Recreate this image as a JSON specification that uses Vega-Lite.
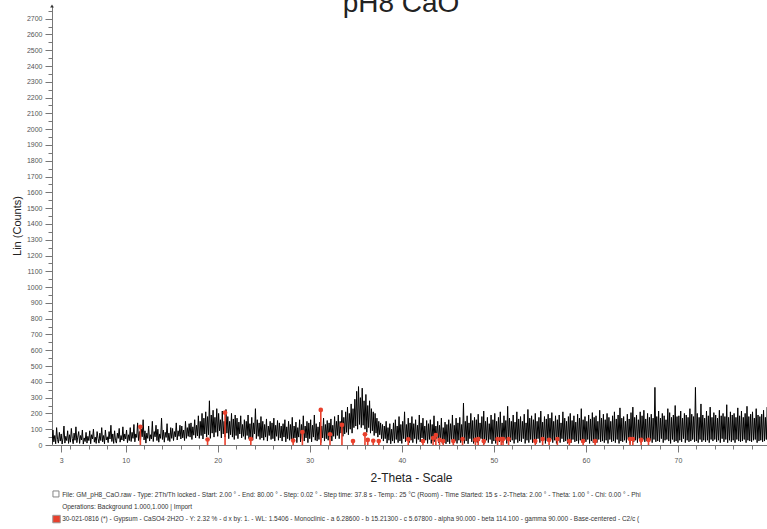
{
"$schema": "https://vega.github.io/schema/vega-lite/v6.json",
"autosize": {"type": "none"},
"width": 718,
"height": 439,
"padding": {"left": 52, "top": 6, "right": 0, "bottom": 84},
"background": "white",
"config": {"view": {"stroke": null}, "font": "Liberation Sans"},
"title": {"text": "pH8 CaO", "fontSize": 28, "fontWeight": "normal", "color": "#222", "font": "Liberation Sans", "offset": -5, "baseline": "alphabetic", "dx": -10, "dy": 31},
"resolve": {"axis": {"x": "independent", "y": "independent"}},
"datasets": {
"ref": [
{"x":11.6,"y":115},{"x":18.9,"y":35},{"x":20.8,"y":205},{"x":23.6,"y":38},{"x":28.2,"y":28},{"x":29.2,"y":82},{"x":31.2,"y":222},{"x":32.2,"y":68},{"x":33.5,"y":127},{"x":34.7,"y":25},{"x":36.0,"y":68},{"x":36.3,"y":32},{"x":36.9,"y":27},{"x":37.5,"y":25},{"x":40.7,"y":36},{"x":42.3,"y":25},{"x":43.4,"y":44},{"x":43.7,"y":63},{"x":44.1,"y":32},{"x":44.5,"y":25},{"x":45.6,"y":25},{"x":46.6,"y":38},{"x":48.0,"y":32},{"x":48.3,"y":38},{"x":48.9,"y":25},{"x":50.4,"y":38},{"x":50.8,"y":38},{"x":51.0,"y":38},{"x":51.6,"y":38},{"x":54.5,"y":25},{"x":55.3,"y":38},{"x":56.0,"y":32},{"x":56.9,"y":38},{"x":58.2,"y":25},{"x":59.7,"y":25},{"x":61.0,"y":25},{"x":64.8,"y":38},{"x":65.1,"y":38},{"x":66.0,"y":32},{"x":66.8,"y":32}
],
"footer": [
{"lines": ["File: GM_pH8_CaO.raw - Type: 2Th/Th locked - Start: 2.00 ° - End: 80.00 ° - Step: 0.02 ° - Step time: 37.8 s - Temp.: 25 °C (Room) - Time Started: 15 s - 2-Theta: 2.00 ° - Theta: 1.00 ° - Chi: 0.00 ° - Phi", "Operations: Background 1.000,1.000 | Import", "30-021-0816 (*) - Gypsum - CaSO4·2H2O - Y: 2.32 % - d x by: 1. - WL: 1.5406 - Monoclinic - a 6.28600 - b 15.21300 - c 5.67800 - alpha 90.000 - beta 114.100 - gamma 90.000 - Base-centered - C2/c ("]}
],
"scan": [
{"x":2.0,"y":5},{"x":2.1,"y":95},{"x":2.2,"y":20},{"x":2.3,"y":60},{"x":2.4,"y":8},{"x":2.5,"y":110},{"x":2.6,"y":35},{"x":2.7,"y":12},{"x":2.8,"y":80},{"x":2.9,"y":25},
{"x":3.0,"y":70},{"x":3.1,"y":6},{"x":3.2,"y":45},{"x":3.3,"y":120},{"x":3.4,"y":12},{"x":3.5,"y":55},{"x":3.6,"y":28},{"x":3.7,"y":90},{"x":3.8,"y":10},{"x":3.9,"y":65},
{"x":4.0,"y":18},{"x":4.1,"y":105},{"x":4.2,"y":40},{"x":4.3,"y":8},{"x":4.4,"y":75},{"x":4.5,"y":30},{"x":4.6,"y":115},{"x":4.7,"y":15},{"x":4.8,"y":50},{"x":4.9,"y":85},
{"x":5.0,"y":10},{"x":5.1,"y":60},{"x":5.2,"y":32},{"x":5.3,"y":95},{"x":5.4,"y":6},{"x":5.5,"y":45},{"x":5.6,"y":22},{"x":5.7,"y":80},{"x":5.8,"y":12},{"x":5.9,"y":55},
{"x":6.0,"y":28},{"x":6.1,"y":90},{"x":6.2,"y":8},{"x":6.3,"y":65},{"x":6.4,"y":38},{"x":6.5,"y":100},{"x":6.6,"y":18},{"x":6.7,"y":50},{"x":6.8,"y":10},{"x":6.9,"y":85},
{"x":7.0,"y":42},{"x":7.1,"y":12},{"x":7.2,"y":75},{"x":7.3,"y":28},{"x":7.4,"y":110},{"x":7.5,"y":20},{"x":7.6,"y":60},{"x":7.7,"y":8},{"x":7.8,"y":95},{"x":7.9,"y":32},
{"x":8.0,"y":52},{"x":8.1,"y":15},{"x":8.2,"y":85},{"x":8.3,"y":38},{"x":8.4,"y":125},{"x":8.5,"y":22},{"x":8.6,"y":70},{"x":8.7,"y":10},{"x":8.8,"y":90},{"x":8.9,"y":28},
{"x":9.0,"y":12},{"x":9.1,"y":75},{"x":9.2,"y":42},{"x":9.3,"y":105},{"x":9.4,"y":18},{"x":9.5,"y":60},{"x":9.6,"y":32},{"x":9.7,"y":115},{"x":9.8,"y":25},{"x":9.9,"y":70},
{"x":10.0,"y":38},{"x":10.1,"y":95},{"x":10.2,"y":15},{"x":10.3,"y":65},{"x":10.4,"y":28},{"x":10.5,"y":110},{"x":10.6,"y":22},{"x":10.7,"y":80},{"x":10.8,"y":42},{"x":10.9,"y":130},
{"x":11.0,"y":20},{"x":11.1,"y":70},{"x":11.2,"y":48},{"x":11.3,"y":140},{"x":11.4,"y":28},{"x":11.5,"y":85},{"x":11.6,"y":18},{"x":11.7,"y":100},{"x":11.8,"y":52},{"x":11.9,"y":160},
{"x":12.0,"y":32},{"x":12.1,"y":90},{"x":12.2,"y":12},{"x":12.3,"y":75},{"x":12.4,"y":42},{"x":12.5,"y":120},{"x":12.6,"y":25},{"x":12.7,"y":65},{"x":12.8,"y":38},{"x":12.9,"y":150},
{"x":13.0,"y":22},{"x":13.1,"y":85},{"x":13.2,"y":52},{"x":13.3,"y":125},{"x":13.4,"y":28},{"x":13.5,"y":100},{"x":13.6,"y":18},{"x":13.7,"y":70},{"x":13.8,"y":42},{"x":13.9,"y":170},
{"x":14.0,"y":35},{"x":14.1,"y":95},{"x":14.2,"y":18},{"x":14.3,"y":80},{"x":14.4,"y":48},{"x":14.5,"y":135},{"x":14.6,"y":28},{"x":14.7,"y":75},{"x":14.8,"y":22},{"x":14.9,"y":110},
{"x":15.0,"y":42},{"x":15.1,"y":105},{"x":15.2,"y":28},{"x":15.3,"y":85},{"x":15.4,"y":52},{"x":15.5,"y":140},{"x":15.6,"y":32},{"x":15.7,"y":90},{"x":15.8,"y":55},{"x":15.9,"y":125},
{"x":16.0,"y":38},{"x":16.1,"y":120},{"x":16.2,"y":45},{"x":16.3,"y":95},{"x":16.4,"y":28},{"x":16.5,"y":150},{"x":16.6,"y":42},{"x":16.7,"y":110},{"x":16.8,"y":55},{"x":16.9,"y":135},
{"x":17.0,"y":50},{"x":17.1,"y":140},{"x":17.2,"y":35},{"x":17.3,"y":115},{"x":17.4,"y":62},{"x":17.5,"y":160},{"x":17.6,"y":45},{"x":17.7,"y":125},{"x":17.8,"y":58},{"x":17.9,"y":185},
{"x":18.0,"y":42},{"x":18.1,"y":150},{"x":18.2,"y":60},{"x":18.3,"y":200},{"x":18.4,"y":38},{"x":18.5,"y":170},{"x":18.6,"y":70},{"x":18.7,"y":210},{"x":18.8,"y":50},{"x":18.9,"y":180},
{"x":19.0,"y":65},{"x":19.1,"y":280},{"x":19.2,"y":42},{"x":19.3,"y":190},{"x":19.4,"y":75},{"x":19.5,"y":220},{"x":19.6,"y":50},{"x":19.7,"y":175},{"x":19.8,"y":80},{"x":19.9,"y":230},
{"x":20.0,"y":55},{"x":20.1,"y":200},{"x":20.2,"y":90},{"x":20.3,"y":160},{"x":20.4,"y":45},{"x":20.5,"y":215},{"x":20.6,"y":70},{"x":20.7,"y":150},{"x":20.8,"y":50},{"x":20.9,"y":225},
{"x":21.0,"y":75},{"x":21.1,"y":180},{"x":21.2,"y":40},{"x":21.3,"y":150},{"x":21.4,"y":65},{"x":21.5,"y":200},{"x":21.6,"y":50},{"x":21.7,"y":165},{"x":21.8,"y":35},{"x":21.9,"y":190},
{"x":22.0,"y":60},{"x":22.1,"y":170},{"x":22.2,"y":40},{"x":22.3,"y":145},{"x":22.4,"y":70},{"x":22.5,"y":185},{"x":22.6,"y":45},{"x":22.7,"y":130},{"x":22.8,"y":55},{"x":22.9,"y":160},
{"x":23.0,"y":35},{"x":23.1,"y":150},{"x":23.2,"y":60},{"x":23.3,"y":190},{"x":23.4,"y":40},{"x":23.5,"y":135},{"x":23.6,"y":50},{"x":23.7,"y":175},{"x":23.8,"y":30},{"x":23.9,"y":140},
{"x":24.0,"y":70},{"x":24.1,"y":230},{"x":24.2,"y":40},{"x":24.3,"y":160},{"x":24.4,"y":55},{"x":24.5,"y":140},{"x":24.6,"y":35},{"x":24.7,"y":180},{"x":24.8,"y":45},{"x":24.9,"y":150},
{"x":25.0,"y":30},{"x":25.1,"y":130},{"x":25.2,"y":50},{"x":25.3,"y":165},{"x":25.4,"y":25},{"x":25.5,"y":120},{"x":25.6,"y":60},{"x":25.7,"y":150},{"x":25.8,"y":35},{"x":25.9,"y":140},
{"x":26.0,"y":40},{"x":26.1,"y":170},{"x":26.2,"y":25},{"x":26.3,"y":125},{"x":26.4,"y":55},{"x":26.5,"y":155},{"x":26.6,"y":30},{"x":26.7,"y":140},{"x":26.8,"y":45},{"x":26.9,"y":120},
{"x":27.0,"y":25},{"x":27.1,"y":135},{"x":27.2,"y":50},{"x":27.3,"y":160},{"x":27.4,"y":20},{"x":27.5,"y":115},{"x":27.6,"y":40},{"x":27.7,"y":150},{"x":27.8,"y":30},{"x":27.9,"y":130},
{"x":28.0,"y":35},{"x":28.1,"y":175},{"x":28.2,"y":20},{"x":28.3,"y":120},{"x":28.4,"y":45},{"x":28.5,"y":145},{"x":28.6,"y":15},{"x":28.7,"y":110},{"x":28.8,"y":50},{"x":28.9,"y":160},
{"x":29.0,"y":20},{"x":29.1,"y":130},{"x":29.2,"y":40},{"x":29.3,"y":185},{"x":29.4,"y":25},{"x":29.5,"y":120},{"x":29.6,"y":45},{"x":29.7,"y":150},{"x":29.8,"y":15},{"x":29.9,"y":140},
{"x":30.0,"y":40},{"x":30.1,"y":160},{"x":30.2,"y":20},{"x":30.3,"y":125},{"x":30.4,"y":50},{"x":30.5,"y":190},{"x":30.6,"y":30},{"x":30.7,"y":135},{"x":30.8,"y":25},{"x":30.9,"y":115},
{"x":31.0,"y":35},{"x":31.1,"y":145},{"x":31.2,"y":15},{"x":31.3,"y":120},{"x":31.4,"y":45},{"x":31.5,"y":170},{"x":31.6,"y":25},{"x":31.7,"y":130},{"x":31.8,"y":40},{"x":31.9,"y":155},
{"x":32.0,"y":30},{"x":32.1,"y":140},{"x":32.2,"y":50},{"x":32.3,"y":165},{"x":32.4,"y":25},{"x":32.5,"y":125},{"x":32.6,"y":55},{"x":32.7,"y":180},{"x":32.8,"y":40},{"x":32.9,"y":150},
{"x":33.0,"y":60},{"x":33.1,"y":190},{"x":33.2,"y":40},{"x":33.3,"y":150},{"x":33.4,"y":75},{"x":33.5,"y":220},{"x":33.6,"y":55},{"x":33.7,"y":175},{"x":33.8,"y":70},{"x":33.9,"y":210},
{"x":34.0,"y":80},{"x":34.1,"y":240},{"x":34.2,"y":65},{"x":34.3,"y":200},{"x":34.4,"y":100},{"x":34.5,"y":260},{"x":34.6,"y":75},{"x":34.7,"y":230},{"x":34.8,"y":110},{"x":34.9,"y":290},
{"x":35.0,"y":120},{"x":35.1,"y":340},{"x":35.2,"y":100},{"x":35.3,"y":370},{"x":35.4,"y":130},{"x":35.5,"y":300},{"x":35.6,"y":110},{"x":35.7,"y":360},{"x":35.8,"y":125},{"x":35.9,"y":280},
{"x":36.0,"y":100},{"x":36.1,"y":320},{"x":36.2,"y":80},{"x":36.3,"y":250},{"x":36.4,"y":110},{"x":36.5,"y":280},{"x":36.6,"y":75},{"x":36.7,"y":230},{"x":36.8,"y":90},{"x":36.9,"y":210},
{"x":37.0,"y":60},{"x":37.1,"y":200},{"x":37.2,"y":75},{"x":37.3,"y":170},{"x":37.4,"y":50},{"x":37.5,"y":150},{"x":37.6,"y":65},{"x":37.7,"y":140},{"x":37.8,"y":40},{"x":37.9,"y":130},
{"x":38.0,"y":25},{"x":38.1,"y":120},{"x":38.2,"y":40},{"x":38.3,"y":150},{"x":38.4,"y":12},{"x":38.5,"y":110},{"x":38.6,"y":30},{"x":38.7,"y":135},{"x":38.8,"y":8},{"x":38.9,"y":100},
{"x":39.0,"y":25},{"x":39.1,"y":140},{"x":39.2,"y":12},{"x":39.3,"y":160},{"x":39.4,"y":35},{"x":39.5,"y":120},{"x":39.6,"y":15},{"x":39.7,"y":180},{"x":39.8,"y":25},{"x":39.9,"y":130},
{"x":40.0,"y":10},{"x":40.1,"y":150},{"x":40.2,"y":40},{"x":40.3,"y":210},{"x":40.4,"y":20},{"x":40.5,"y":130},{"x":40.6,"y":30},{"x":40.7,"y":170},{"x":40.8,"y":15},{"x":40.9,"y":140},
{"x":41.0,"y":30},{"x":41.1,"y":180},{"x":41.2,"y":15},{"x":41.3,"y":135},{"x":41.4,"y":40},{"x":41.5,"y":160},{"x":41.6,"y":10},{"x":41.7,"y":125},{"x":41.8,"y":35},{"x":41.9,"y":190},
{"x":42.0,"y":20},{"x":42.1,"y":140},{"x":42.2,"y":45},{"x":42.3,"y":170},{"x":42.4,"y":15},{"x":42.5,"y":120},{"x":42.6,"y":30},{"x":42.7,"y":155},{"x":42.8,"y":10},{"x":42.9,"y":135},
{"x":43.0,"y":35},{"x":43.1,"y":160},{"x":43.2,"y":10},{"x":43.3,"y":130},{"x":43.4,"y":25},{"x":43.5,"y":185},{"x":43.6,"y":20},{"x":43.7,"y":120},{"x":43.8,"y":40},{"x":43.9,"y":150},
{"x":44.0,"y":15},{"x":44.1,"y":125},{"x":44.2,"y":30},{"x":44.3,"y":170},{"x":44.4,"y":10},{"x":44.5,"y":110},{"x":44.6,"y":25},{"x":44.7,"y":145},{"x":44.8,"y":8},{"x":44.9,"y":130},
{"x":45.0,"y":20},{"x":45.1,"y":160},{"x":45.2,"y":8},{"x":45.3,"y":135},{"x":45.4,"y":35},{"x":45.5,"y":190},{"x":45.6,"y":10},{"x":45.7,"y":125},{"x":45.8,"y":25},{"x":45.9,"y":170},
{"x":46.0,"y":10},{"x":46.1,"y":140},{"x":46.2,"y":30},{"x":46.3,"y":175},{"x":46.4,"y":15},{"x":46.5,"y":130},{"x":46.6,"y":35},{"x":46.7,"y":265},{"x":46.8,"y":10},{"x":46.9,"y":150},
{"x":47.0,"y":25},{"x":47.1,"y":185},{"x":47.2,"y":8},{"x":47.3,"y":140},{"x":47.4,"y":40},{"x":47.5,"y":200},{"x":47.6,"y":20},{"x":47.7,"y":155},{"x":47.8,"y":10},{"x":47.9,"y":175},
{"x":48.0,"y":35},{"x":48.1,"y":160},{"x":48.2,"y":15},{"x":48.3,"y":195},{"x":48.4,"y":25},{"x":48.5,"y":140},{"x":48.6,"y":40},{"x":48.7,"y":180},{"x":48.8,"y":20},{"x":48.9,"y":215},
{"x":49.0,"y":10},{"x":49.1,"y":150},{"x":49.2,"y":30},{"x":49.3,"y":175},{"x":49.4,"y":15},{"x":49.5,"y":135},{"x":49.6,"y":35},{"x":49.7,"y":190},{"x":49.8,"y":8},{"x":49.9,"y":160},
{"x":50.0,"y":25},{"x":50.1,"y":200},{"x":50.2,"y":10},{"x":50.3,"y":150},{"x":50.4,"y":40},{"x":50.5,"y":175},{"x":50.6,"y":20},{"x":50.7,"y":210},{"x":50.8,"y":30},{"x":50.9,"y":140},
{"x":51.0,"y":15},{"x":51.1,"y":185},{"x":51.2,"y":35},{"x":51.3,"y":155},{"x":51.4,"y":10},{"x":51.5,"y":245},{"x":51.6,"y":25},{"x":51.7,"y":170},{"x":51.8,"y":20},{"x":51.9,"y":150},
{"x":52.0,"y":30},{"x":52.1,"y":190},{"x":52.2,"y":10},{"x":52.3,"y":145},{"x":52.4,"y":35},{"x":52.5,"y":210},{"x":52.6,"y":15},{"x":52.7,"y":165},{"x":52.8,"y":25},{"x":52.9,"y":180},
{"x":53.0,"y":20},{"x":53.1,"y":150},{"x":53.2,"y":40},{"x":53.3,"y":195},{"x":53.4,"y":10},{"x":53.5,"y":140},{"x":53.6,"y":30},{"x":53.7,"y":225},{"x":53.8,"y":15},{"x":53.9,"y":170},
{"x":54.0,"y":35},{"x":54.1,"y":185},{"x":54.2,"y":15},{"x":54.3,"y":160},{"x":54.4,"y":30},{"x":54.5,"y":200},{"x":54.6,"y":10},{"x":54.7,"y":150},{"x":54.8,"y":40},{"x":54.9,"y":175},
{"x":55.0,"y":15},{"x":55.1,"y":215},{"x":55.2,"y":25},{"x":55.3,"y":145},{"x":55.4,"y":35},{"x":55.5,"y":180},{"x":55.6,"y":10},{"x":55.7,"y":165},{"x":55.8,"y":25},{"x":55.9,"y":195},
{"x":56.0,"y":20},{"x":56.1,"y":170},{"x":56.2,"y":35},{"x":56.3,"y":205},{"x":56.4,"y":15},{"x":56.5,"y":150},{"x":56.6,"y":30},{"x":56.7,"y":185},{"x":56.8,"y":10},{"x":56.9,"y":160},
{"x":57.0,"y":30},{"x":57.1,"y":190},{"x":57.2,"y":15},{"x":57.3,"y":140},{"x":57.4,"y":40},{"x":57.5,"y":210},{"x":57.6,"y":20},{"x":57.7,"y":170},{"x":57.8,"y":25},{"x":57.9,"y":150},
{"x":58.0,"y":10},{"x":58.1,"y":180},{"x":58.2,"y":30},{"x":58.3,"y":200},{"x":58.4,"y":15},{"x":58.5,"y":155},{"x":58.6,"y":35},{"x":58.7,"y":185},{"x":58.8,"y":20},{"x":58.9,"y":145},
{"x":59.0,"y":25},{"x":59.1,"y":195},{"x":59.2,"y":10},{"x":59.3,"y":170},{"x":59.4,"y":30},{"x":59.5,"y":230},{"x":59.6,"y":15},{"x":59.7,"y":160},{"x":59.8,"y":35},{"x":59.9,"y":180},
{"x":60.0,"y":20},{"x":60.1,"y":150},{"x":60.2,"y":35},{"x":60.3,"y":190},{"x":60.4,"y":10},{"x":60.5,"y":165},{"x":60.6,"y":25},{"x":60.7,"y":205},{"x":60.8,"y":15},{"x":60.9,"y":175},
{"x":61.0,"y":30},{"x":61.1,"y":185},{"x":61.2,"y":15},{"x":61.3,"y":150},{"x":61.4,"y":35},{"x":61.5,"y":220},{"x":61.6,"y":20},{"x":61.7,"y":170},{"x":61.8,"y":25},{"x":61.9,"y":195},
{"x":62.0,"y":15},{"x":62.1,"y":160},{"x":62.2,"y":30},{"x":62.3,"y":200},{"x":62.4,"y":10},{"x":62.5,"y":175},{"x":62.6,"y":35},{"x":62.7,"y":150},{"x":62.8,"y":20},{"x":62.9,"y":185},
{"x":63.0,"y":25},{"x":63.1,"y":210},{"x":63.2,"y":15},{"x":63.3,"y":165},{"x":63.4,"y":35},{"x":63.5,"y":190},{"x":63.6,"y":10},{"x":63.7,"y":235},{"x":63.8,"y":25},{"x":63.9,"y":170},
{"x":64.0,"y":20},{"x":64.1,"y":180},{"x":64.2,"y":30},{"x":64.3,"y":150},{"x":64.4,"y":15},{"x":64.5,"y":195},{"x":64.6,"y":35},{"x":64.7,"y":165},{"x":64.8,"y":10},{"x":64.9,"y":205},
{"x":65.0,"y":35},{"x":65.1,"y":240},{"x":65.2,"y":20},{"x":65.3,"y":175},{"x":65.4,"y":30},{"x":65.5,"y":190},{"x":65.6,"y":15},{"x":65.7,"y":160},{"x":65.8,"y":40},{"x":65.9,"y":210},
{"x":66.0,"y":15},{"x":66.1,"y":185},{"x":66.2,"y":35},{"x":66.3,"y":220},{"x":66.4,"y":20},{"x":66.5,"y":165},{"x":66.6,"y":25},{"x":66.7,"y":200},{"x":66.8,"y":10},{"x":66.9,"y":175},
{"x":67.0,"y":30},{"x":67.1,"y":195},{"x":67.2,"y":15},{"x":67.3,"y":170},{"x":67.4,"y":35},{"x":67.5,"y":365},{"x":67.6,"y":20},{"x":67.7,"y":180},{"x":67.8,"y":25},{"x":67.9,"y":215},
{"x":68.0,"y":20},{"x":68.1,"y":170},{"x":68.2,"y":40},{"x":68.3,"y":200},{"x":68.4,"y":15},{"x":68.5,"y":185},{"x":68.6,"y":30},{"x":68.7,"y":160},{"x":68.8,"y":35},{"x":68.9,"y":230},
{"x":69.0,"y":25},{"x":69.1,"y":205},{"x":69.2,"y":10},{"x":69.3,"y":175},{"x":69.4,"y":35},{"x":69.5,"y":190},{"x":69.6,"y":20},{"x":69.7,"y":250},{"x":69.8,"y":25},{"x":69.9,"y":180},
{"x":70.0,"y":15},{"x":70.1,"y":185},{"x":70.2,"y":30},{"x":70.3,"y":215},{"x":70.4,"y":20},{"x":70.5,"y":170},{"x":70.6,"y":40},{"x":70.7,"y":200},{"x":70.8,"y":15},{"x":70.9,"y":190},
{"x":71.0,"y":30},{"x":71.1,"y":175},{"x":71.2,"y":20},{"x":71.3,"y":230},{"x":71.4,"y":25},{"x":71.5,"y":195},{"x":71.6,"y":35},{"x":71.7,"y":180},{"x":71.8,"y":20},{"x":71.9,"y":365},
{"x":72.0,"y":25},{"x":72.1,"y":200},{"x":72.2,"y":15},{"x":72.3,"y":175},{"x":72.4,"y":35},{"x":72.5,"y":260},{"x":72.6,"y":20},{"x":72.7,"y":190},{"x":72.8,"y":30},{"x":72.9,"y":170},
{"x":73.0,"y":20},{"x":73.1,"y":215},{"x":73.2,"y":30},{"x":73.3,"y":185},{"x":73.4,"y":15},{"x":73.5,"y":240},{"x":73.6,"y":35},{"x":73.7,"y":175},{"x":73.8,"y":25},{"x":73.9,"y":205},
{"x":74.0,"y":35},{"x":74.1,"y":190},{"x":74.2,"y":20},{"x":74.3,"y":170},{"x":74.4,"y":30},{"x":74.5,"y":220},{"x":74.6,"y":15},{"x":74.7,"y":185},{"x":74.8,"y":40},{"x":74.9,"y":200},
{"x":75.0,"y":20},{"x":75.1,"y":180},{"x":75.2,"y":35},{"x":75.3,"y":255},{"x":75.4,"y":15},{"x":75.5,"y":175},{"x":75.6,"y":30},{"x":75.7,"y":210},{"x":75.8,"y":20},{"x":75.9,"y":190},
{"x":76.0,"y":30},{"x":76.1,"y":200},{"x":76.2,"y":15},{"x":76.3,"y":175},{"x":76.4,"y":35},{"x":76.5,"y":235},{"x":76.6,"y":25},{"x":76.7,"y":185},{"x":76.8,"y":20},{"x":76.9,"y":215},
{"x":77.0,"y":25},{"x":77.1,"y":175},{"x":77.2,"y":35},{"x":77.3,"y":200},{"x":77.4,"y":15},{"x":77.5,"y":245},{"x":77.6,"y":30},{"x":77.7,"y":180},{"x":77.8,"y":25},{"x":77.9,"y":195},
{"x":78.0,"y":20},{"x":78.1,"y":210},{"x":78.2,"y":30},{"x":78.3,"y":170},{"x":78.4,"y":35},{"x":78.5,"y":230},{"x":78.6,"y":15},{"x":78.7,"y":190},{"x":78.8,"y":25},{"x":78.9,"y":180},
{"x":79.0,"y":30},{"x":79.1,"y":195},{"x":79.2,"y":20},{"x":79.3,"y":220},{"x":79.4,"y":25},{"x":79.5,"y":175},{"x":79.6,"y":35},{"x":79.7,"y":240},{"x":79.8,"y":15},{"x":79.9,"y":185},
{"x":80.0,"y":25}
]
},
"layer": [
{
"data": {"name": "scan"},
"mark": {"type": "line", "color": "#000000", "strokeWidth": 1, "clip": true},
"encoding": {
"x": {"field": "x", "type": "quantitative",
"scale": {"domain": [2, 80], "nice": false, "zero": false},
"axis": {"orient": "bottom", "title": "2-Theta - Scale", "titleFontSize": 12, "titleFontWeight": "normal", "titleColor": "#222", "titlePadding": 9,
"values": [3,10,20,30,40,50,60,70],
"format": "d", "labelFontSize": 7, "labelColor": "#555", "labelPadding": 4,
"tickSize": 7, "tickColor": "#777", "domainColor": "#777", "grid": false}},
"y": {"field": "y", "type": "quantitative",
"scale": {"domain": [0, 2780], "nice": false},
"axis": {"orient": "left", "title": "Lin (Counts)", "titleFontSize": 11, "titleFontWeight": "normal", "titleColor": "#222", "titlePadding": 4,
"values": [0,100,200,300,400,500,600,700,800,900,1000,1100,1200,1300,1400,1500,1600,1700,1800,1900,2000,2100,2200,2300,2400,2500,2600,2700],
"format": "d", "labelFontSize": 7, "labelColor": "#555", "labelPadding": 3,
"tickSize": 7, "tickColor": "#777", "domainColor": "#777", "grid": false}}
}
},
{
"data": {"name": "ref"},
"mark": {"type": "rule", "color": "#e8402c", "strokeWidth": 1.6},
"encoding": {
"x": {"field": "x", "type": "quantitative",
"axis": {"orient": "bottom", "title": null, "labels": false, "domain": false, "grid": false, "tickSize": 4, "tickColor": "#777",
"values": [4,6,8,12,14,16,18,22,24,26,28,32,34,36,38,42,44,46,48,52,54,56,58,62,64,66,68,72,74,76,78]}},
"y": {"field": "y", "type": "quantitative",
"axis": {"orient": "left", "title": null, "labels": false, "domain": false, "grid": false, "tickSize": 4, "tickColor": "#777",
"values": [50,150,250,350,450,550,650,750,850,950,1050,1150,1250,1350,1450,1550,1650,1750,1850,1950,2050,2150,2250,2350,2450,2550,2650,2750]}},
"y2": {"datum": 0}
}
},
{
"data": {"name": "ref"},
"mark": {"type": "point", "shape": "circle", "filled": true, "color": "#e8402c", "size": 22, "opacity": 1},
"encoding": {
"x": {"field": "x", "type": "quantitative", "axis": null},
"y": {"field": "y", "type": "quantitative", "axis": null}
}
},
{
"data": {"name": "footer"},
"mark": {"type": "text", "align": "left", "baseline": "middle", "fontSize": 6.5, "lineHeight": 12, "color": "#333", "font": "Liberation Sans"},
"encoding": {
"x": {"datum": 3.1, "type": "quantitative", "axis": null},
"y": {"datum": -317, "type": "quantitative", "axis": null},
"text": {"field": "lines"}
}
},
{
"data": {"values": [{"icon": "pattern"}]},
"mark": {"type": "point", "shape": "square", "filled": false, "stroke": "#555", "strokeWidth": 1, "size": 36},
"encoding": {
"x": {"datum": 2.43, "type": "quantitative", "axis": null},
"y": {"datum": -310, "type": "quantitative", "axis": null}
}
},
{
"data": {"values": [{"icon": "reference"}]},
"mark": {"type": "point", "shape": "square", "filled": true, "fill": "#e8402c", "stroke": "#999", "strokeWidth": 1, "size": 56, "opacity": 1},
"encoding": {
"x": {"datum": 2.49, "type": "quantitative", "axis": null},
"y": {"datum": -469, "type": "quantitative", "axis": null}
}
},
{
"data": {"values": [{"arrow": "y"}]},
"mark": {"type": "point", "shape": "triangle-up", "filled": true, "color": "#333", "size": 14, "opacity": 1},
"encoding": {
"x": {"datum": 2, "type": "quantitative", "axis": null},
"y": {"datum": 2780, "type": "quantitative", "axis": null}
}
}
]
}
